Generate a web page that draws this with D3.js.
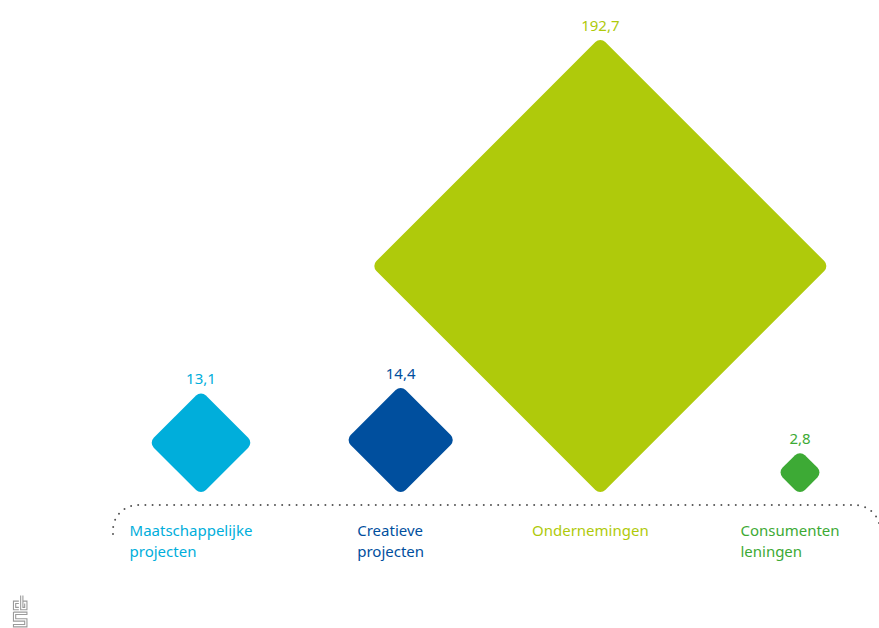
<!DOCTYPE html>
<html>
<head>
<meta charset="utf-8">
<script src="https://cdn.jsdelivr.net/npm/d3@7/dist/d3.min.js"></script>
<style>
  html, body { margin: 0; padding: 0; background: #ffffff; }
  svg { display: block; }
  text { font-family: "Noto Sans", "DejaVu Sans", sans-serif; }
</style>
</head>
<body>
<svg id="chart" width="879" height="628"></svg>
<script>
// Financing volumes per category (mln euro)
const categories = ["maatschappelijk", "creatief", "ondernemingen", "consumenten"];
const categoryLabels = [
  ["Maatschappelijke", "projecten"],
  ["Creatieve", "projecten"],
  ["Ondernemingen"],
  ["Consumenten", "leningen"]
];
const values = [13.1, 14.4, 192.7, 2.8];
const valueLabels = ["13,1", "14,4", "192,7", "2,8"];
const colors = ["#00aedb", "#004f9e", "#afca0b", "#3daa35"];

const W = 879, H = 628;
const svg = d3.select("#chart");

const baseY = 492;       // bottom tip of every diamond
const cornerR = 7;       // rounding of the diamond corners
const tipLoss = cornerR * (Math.SQRT2 - 1);

// horizontal placement of the categories
const x = d3.scalePoint().domain(categories).range([201, 800]);

// diamond diagonal from value
const diag = d3.scalePow().exponent(0.55)
  .domain([0, d3.max(values)])
  .range([0, 457.8]);

const rows = categories.map((c, i) => ({
  key: c, value: values[i], label: valueLabels[i],
  lines: categoryLabels[i], color: colors[i]
}));

// diamonds
const g = svg.append("g");
rows.forEach(d => {
  const dg = diag(d.value);
  const s = dg / Math.SQRT2;
  const cx = x(d.key);
  const cy = baseY + tipLoss - dg / 2;
  g.append("rect")
    .attr("x", -s / 2).attr("y", -s / 2)
    .attr("width", s).attr("height", s)
    .attr("rx", cornerR).attr("ry", cornerR)
    .attr("fill", d.color)
    .attr("transform", `translate(${cx},${cy}) rotate(45)`);
  // value above the top tip
  g.append("text")
    .attr("x", cx)
    .attr("y", cy - dg / 2 + tipLoss - 9)
    .attr("text-anchor", "middle")
    .attr("font-size", 15)
    .attr("fill", d.color)
    .text(d.label);
});

// dotted bracket under the diamonds
svg.append("path")
  .attr("d", "M113,534 L113,530 A25,25 0 0 1 138,505 L855,505 A25,25 0 0 1 880,530")
  .attr("fill", "none")
  .attr("stroke", "#555")
  .attr("stroke-width", 2)
  .attr("stroke-linecap", "round")
  .attr("stroke-dasharray", "0 7.2");

// category names, left aligned, block centred under each diamond
rows.forEach(d => {
  const t = svg.append("text")
    .attr("font-size", 15)
    .attr("fill", d.color);
  d.lines.forEach((ln, j) => {
    t.append("tspan").attr("y", 536 + j * 21).text(ln);
  });
  const spans = t.selectAll("tspan").nodes();
  const wMax = d3.max(spans, n => n.getComputedTextLength());
  const left = x(d.key) - 10 - wMax / 2;
  t.selectAll("tspan").attr("x", left);
});

// logo mark in the lower left corner
const logo = svg.append("g")
  .attr("transform", "translate(13,595) scale(0.9,0.95)")
  .attr("fill", "none")
  .attr("stroke", "#9a9a9a")
  .attr("stroke-width", 1.2);
logo.append("path").attr("d",
  "M6.5,6.5 H0.5 V15.5 H6.5 M6.5,9 H3 V13 H6.5" +
  " M8.5,0.5 V15.5 H15.5 V6.5 H11 M11,0.5 V13 H13 V9");
logo.append("path").attr("d",
  "M0.5,18 H15.5 V20.5 H3 V25 H15.5 V33.5 H0.5 V31 H13 V27.5 H0.5 V18");
</script>
</body>
</html>
